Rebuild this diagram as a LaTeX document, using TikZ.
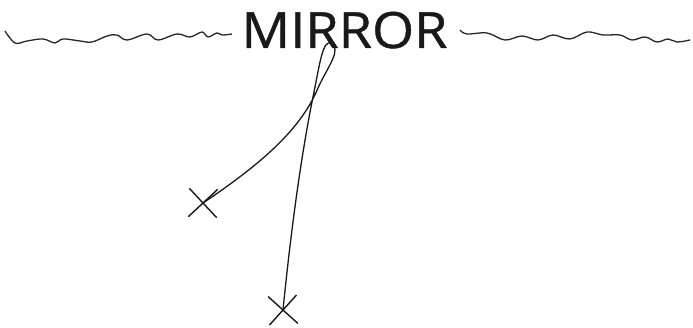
\documentclass[tikz,border=0pt]{standalone}
\usepackage{fontspec}
\newfontfamily\titlefont{Open Sans}[FakeBold=0.8]
\usepackage{tikz}
\usetikzlibrary{shapes.misc}

\tikzset{
  wave/.style={draw=black!85,line width=1.3pt,line join=round},
  trace/.style={draw=black!90,line width=1.3pt},
  spot/.style={cross out,draw=black!90,line width=1.4pt,minimum size=27pt,inner sep=0pt}
}

\begin{document}
\begin{tikzpicture}[x=1pt,y=-1pt]
\useasboundingbox (0,0) rectangle (693,328);
% mirror surface:
\node[anchor=base,inner sep=0pt,font=\titlefont\fontsize{50}{50}\selectfont,text=black!90] (title) at (344.5,48) {\scalebox{1.08}[1]{MIRROR}};
\path[wave] plot[smooth,tension=0.6] coordinates {(5,31) (15,43) (27,41) (43,39) (55,43) (63,39) (80,41) (92,42) (107,36) (117,35) (127,40) (147,34) (158,40) (177,34) (190,37) (202,32) (208,37) (217,33) (222,35) (232,34)};
\path[wave] plot[smooth,tension=0.6] coordinates {(460,30) (467,34) (487,33) (505,40) (522,36) (538,40) (553,35) (570,39) (587,32) (603,35) (620,35) (632,40) (645,37) (657,42) (668,39) (677,42) (690,40)};
% objects:
\node[spot,rotate=-2] (markA) at (203,203) {};
\node[spot,rotate=3] (markB) at (283,310) {};
\path[trace] (markA.center) .. controls (255,168) and (300,132) .. (318,88)
  .. controls (328,66) and (342,50) .. (331,43)
  .. controls (323,40) and (320,62) .. (314,92)
  .. controls (300,160) and (290,240) .. (markB.center);
\end{tikzpicture}
\end{document}
